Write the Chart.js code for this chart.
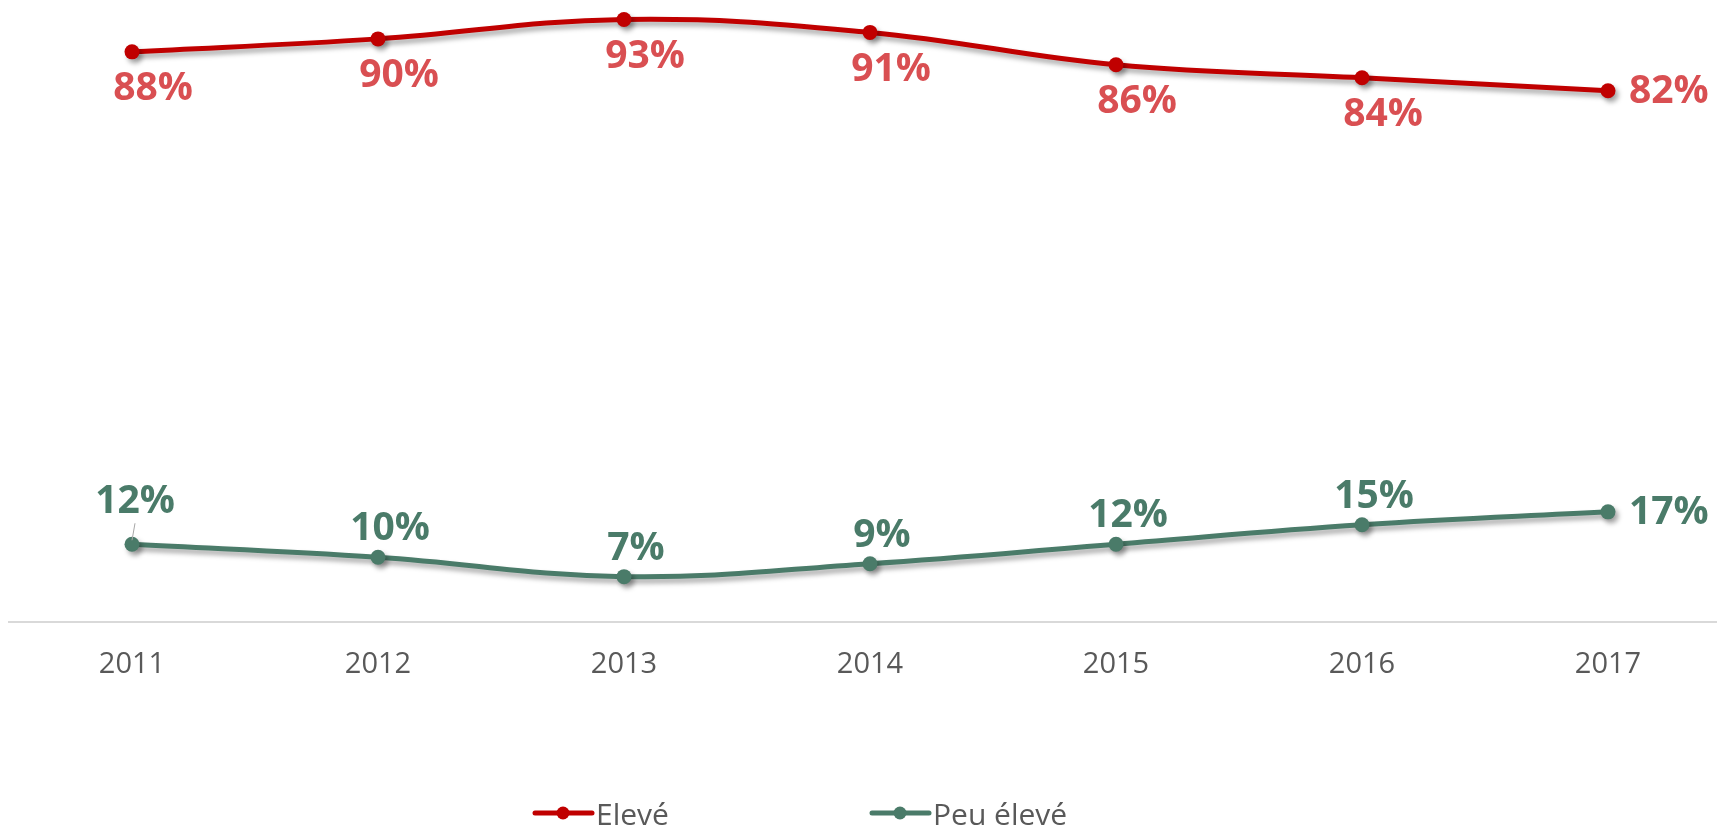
<!DOCTYPE html>
<html>
<head>
<meta charset="utf-8">
<script src="https://cdn.jsdelivr.net/npm/chart.js@4.4.1/dist/chart.umd.min.js"></script>
<style>
  html, body { margin: 0; padding: 0; background: #fff; }
  #chart { display: block; }
</style>
</head>
<body>
<canvas id="chart" width="1717" height="827"></canvas>
<script>
const years = [2011, 2012, 2013, 2014, 2015, 2016, 2017];
const xTickLabels = ['2011', '2012', '2013', '2014', '2015', '2016', '2017'];
const seriesNames = ['Elevé', 'Peu élevé'];
const eleve = [88, 90, 93, 91, 86, 84, 82];
const peuEleve = [12, 10, 7, 9, 12, 15, 17];

const RED = '#c00000';
const RED_LABEL = '#d94f52';
const GREEN = '#4a7b69';
const GRAY_TEXT = '#595959';

function toPoints(values) {
  return years.map((yr, i) => ({ x: yr, y: values[i] }));
}

// soft drop shadow under the lines, like the office chart
const shadowPlugin = {
  id: 'lineShadow',
  beforeDatasetDraw(chart) {
    const ctx = chart.ctx;
    ctx.save();
    ctx.shadowColor = 'rgba(0,0,0,0.35)';
    ctx.shadowBlur = 5;
    ctx.shadowOffsetX = 3;
    ctx.shadowOffsetY = 4;
  },
  afterDatasetDraw(chart) {
    chart.ctx.restore();
  }
};

// value labels: red below the points, green above, last one to the right
const valueLabels = {
  id: 'valueLabels',
  afterDatasetsDraw(chart) {
    const ctx = chart.ctx;
    ctx.save();
    ctx.font = 'bold 39px "Open Sans", sans-serif';
    chart.data.datasets.forEach((ds, di) => {
      const meta = chart.getDatasetMeta(di);
      const below = di === 0;
      ctx.fillStyle = below ? RED_LABEL : GREEN;
      meta.data.forEach((pt, i) => {
        const txt = ds.data[i].y + '%';
        const last = i === meta.data.length - 1;
        ctx.textBaseline = 'middle';
        if (last) {
          ctx.textAlign = 'left';
          ctx.fillText(txt, pt.x + 21, pt.y + 1);
          return;
        }
        ctx.textAlign = 'center';
        if (below) {
          ctx.fillText(txt, pt.x + 21, pt.y + 37);
        } else if (i === 0) {
          // first green label sits higher with a small leader line
          ctx.fillText(txt, pt.x + 3, pt.y - 42);
          ctx.strokeStyle = '#a6a6a6';
          ctx.lineWidth = 1;
          ctx.beginPath();
          ctx.moveTo(pt.x + 3, pt.y - 21);
          ctx.lineTo(pt.x, pt.y - 4);
          ctx.stroke();
        } else {
          ctx.fillText(txt, pt.x + 12, pt.y - 28);
        }
      });
    });
    ctx.restore();
  }
};

// legend: line + marker then the series name
const bottomLegend = {
  id: 'bottomLegend',
  afterDraw(chart) {
    const ctx = chart.ctx;
    const starts = [535, 872];
    const y = 813;
    ctx.save();
    chart.data.datasets.forEach((ds, di) => {
      const x0 = starts[di];
      ctx.strokeStyle = ds.borderColor;
      ctx.lineWidth = 5;
      ctx.lineCap = 'round';
      ctx.beginPath();
      ctx.moveTo(x0, y);
      ctx.lineTo(x0 + 57, y);
      ctx.stroke();
      ctx.fillStyle = ds.borderColor;
      ctx.beginPath();
      ctx.arc(x0 + 28, y, 6.5, 0, Math.PI * 2);
      ctx.fill();
      ctx.fillStyle = GRAY_TEXT;
      ctx.font = '30px "Open Sans", sans-serif';
      ctx.textAlign = 'left';
      ctx.textBaseline = 'alphabetic';
      ctx.fillText(ds.label, x0 + 61, y + 12);
    });
    ctx.restore();
  }
};

new Chart(document.getElementById('chart'), {
  type: 'line',
  data: {
    datasets: [
      {
        label: seriesNames[0],
        data: toPoints(eleve),
        borderColor: RED,
        backgroundColor: RED,
        borderWidth: 5,
        pointRadius: 7.5,
        pointBackgroundColor: RED,
        pointBorderWidth: 0,
        tension: 0.4,
        fill: false
      },
      {
        label: seriesNames[1],
        data: toPoints(peuEleve),
        borderColor: GREEN,
        backgroundColor: GREEN,
        borderWidth: 5,
        pointRadius: 7.5,
        pointBackgroundColor: GREEN,
        pointBorderWidth: 0,
        tension: 0.4,
        fill: false
      }
    ]
  },
  options: {
    responsive: false,
    devicePixelRatio: 1,
    animation: false,
    layout: { autoPadding: false, padding: { left: 9, right: 0, top: 0, bottom: 0 } },
    plugins: {
      legend: { display: false },
      tooltip: { enabled: false }
    },
    scales: {
      x: {
        type: 'linear',
        min: 2010.5,
        max: 2017.443,
        grid: { display: false, drawTicks: false },
        border: { display: true, color: '#d9d9d9', width: 2 },
        afterBuildTicks(scale) {
          scale.ticks = years.map(v => ({ value: v }));
        },
        afterFit(scale) {
          scale.height = 205;
        },
        ticks: {
          padding: 25,
          color: GRAY_TEXT,
          font: { family: '"Open Sans", sans-serif', size: 29 },
          maxRotation: 0,
          autoSkip: false,
          callback: (v) => xTickLabels[years.indexOf(v)]
        }
      },
      y: {
        display: false,
        min: 0,
        max: 96
      }
    }
  },
  plugins: [shadowPlugin, valueLabels, bottomLegend]
});
</script>
</body>
</html>
